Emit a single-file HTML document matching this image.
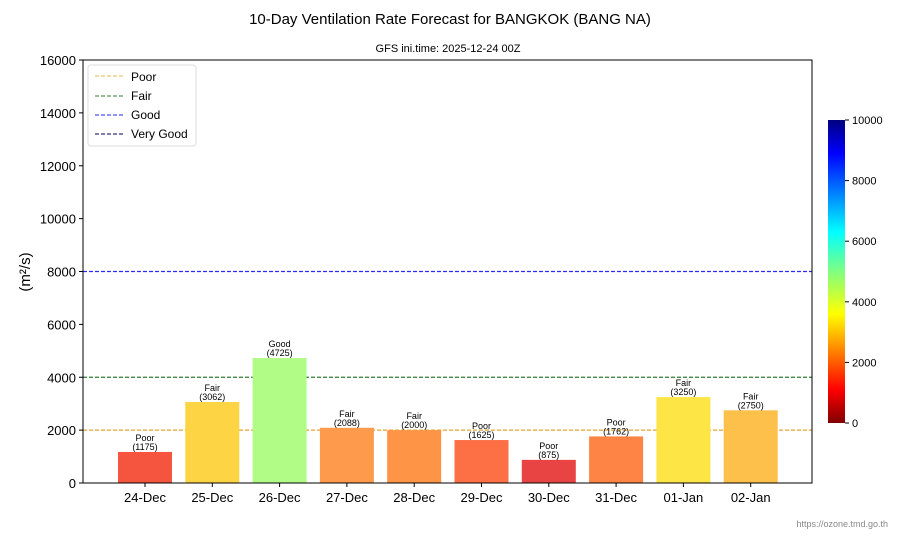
<!DOCTYPE html>
<html><head><meta charset="utf-8"><style>
body{margin:0;background:#fff;font-family:"Liberation Sans",Arial,sans-serif}
svg text{font-family:"Liberation Sans",Arial,sans-serif}
</style></head><body>
<svg id="chart" width="900" height="540" xmlns="http://www.w3.org/2000/svg">
<text x="450" y="24" text-anchor="middle" font-size="15">10-Day Ventilation Rate Forecast for BANGKOK (BANG NA)</text>
<text x="448" y="52" text-anchor="middle" font-size="11">GFS ini.time: 2025-12-24 00Z</text>
<text x="30" y="272" text-anchor="middle" font-size="15" transform="rotate(-90 30 272)">(m²/s)</text>
<g id="thr"></g><g id="bars"></g><g id="axes"></g>
<rect x="83" y="60" width="729" height="423" fill="none" stroke="#000" stroke-width="1"/>
<g>
<rect x="88" y="65" width="108" height="81" rx="3" fill="#fff" stroke="#ddd"/>
<line x1="95" y1="76" x2="123" y2="76" stroke="#e8b84a" stroke-dasharray="4,2"/>
<text x="131" y="81" font-size="12">Poor</text>
<line x1="95" y1="96" x2="123" y2="96" stroke="#2e7d32" stroke-dasharray="4,2"/>
<text x="131" y="100" font-size="12">Fair</text>
<line x1="95" y1="115" x2="123" y2="115" stroke="#2222ff" stroke-dasharray="4,2"/>
<text x="131" y="119" font-size="12">Good</text>
<line x1="95" y1="134" x2="123" y2="134" stroke="#000060" stroke-dasharray="4,2"/>
<text x="131" y="138" font-size="12">Very Good</text>
</g>
<defs><linearGradient id="jet" x1="0" y1="1" x2="0" y2="0">
<stop offset="0" stop-color="#800000"/><stop offset="0.11" stop-color="#ff0000"/><stop offset="0.36" stop-color="#ffff00"/><stop offset="0.5" stop-color="#80ff80"/><stop offset="0.63" stop-color="#00ffff"/><stop offset="0.89" stop-color="#0000ff"/><stop offset="1" stop-color="#000080"/>
</linearGradient></defs>
<rect x="828" y="120" width="17" height="303" fill="url(#jet)"/>
<g id="cbt"></g>
<text x="888" y="527" text-anchor="end" font-size="9" fill="#888">https://ozone.tmd.go.th</text>
</svg>
<script>
const categories=["24-Dec","25-Dec","26-Dec","27-Dec","28-Dec","29-Dec","30-Dec","31-Dec","01-Jan","02-Jan"];
const values=[1175,3062,4725,2088,2000,1625,875,1762,3250,2750];
const ratings=["Poor","Fair","Good","Fair","Fair","Poor","Poor","Poor","Fair","Fair"];
const barColors=["#f5553f","#fdd443","#b0fc86","#fd9a4b","#fd9446","#fd7045","#e84444","#fd8445","#fde545","#fdc04a"];
const yTicks=[0,2000,4000,6000,8000,10000,12000,14000,16000];
const thresholds=[2000,4000,8000];
const thresholdColors=["#e8a030","#2e7d32","#2a2aff"];
const cbTicks=[0,2000,4000,6000,8000,10000];
const NS="http://www.w3.org/2000/svg";
const y=v=>483-v/16000*423;
const x=i=>145+i*67.3;
const cy=v=>423-v/10000*303;
function mk(t,a,p,txt){const e=document.createElementNS(NS,t);for(const k in a)e.setAttribute(k,a[k]);if(txt!==undefined)e.textContent=txt;document.getElementById(p).appendChild(e);return e;}
thresholds.forEach((v,i)=>{const l=mk("line",{x1:83,x2:812,y1:y(v),y2:y(v),stroke:thresholdColors[i],"stroke-dasharray":"4,2","stroke-width":1.2},"thr");

});
values.forEach((v,i)=>{const r=mk("rect",{x:x(i)-27,y:y(v),width:54,height:483-y(v),fill:barColors[i]},"bars");


const t1=mk("text",{x:x(i),y:y(v)-11,"text-anchor":"middle","font-size":9},"bars",ratings[i]);


const t2=mk("text",{x:x(i),y:y(v)-2,"text-anchor":"middle","font-size":9},"bars","("+v+")");


const tk=mk("line",{x1:x(i),x2:x(i),y1:483,y2:487,stroke:"#000"},"axes");


const tl=mk("text",{x:x(i),y:502,"text-anchor":"middle","font-size":13},"axes",categories[i]);

});
yTicks.forEach(v=>{const tk=mk("line",{x1:79,x2:83,y1:y(v),y2:y(v),stroke:"#000"},"axes");


const tl=mk("text",{x:76,y:y(v)+5,"text-anchor":"end","font-size":13},"axes",v);

});
cbTicks.forEach(v=>{const tk=mk("line",{x1:845,x2:849,y1:cy(v),y2:cy(v),stroke:"#000"},"cbt");


const tl=mk("text",{x:852,y:cy(v)+4,"font-size":11},"cbt",v);

});
</script>
</body></html>
